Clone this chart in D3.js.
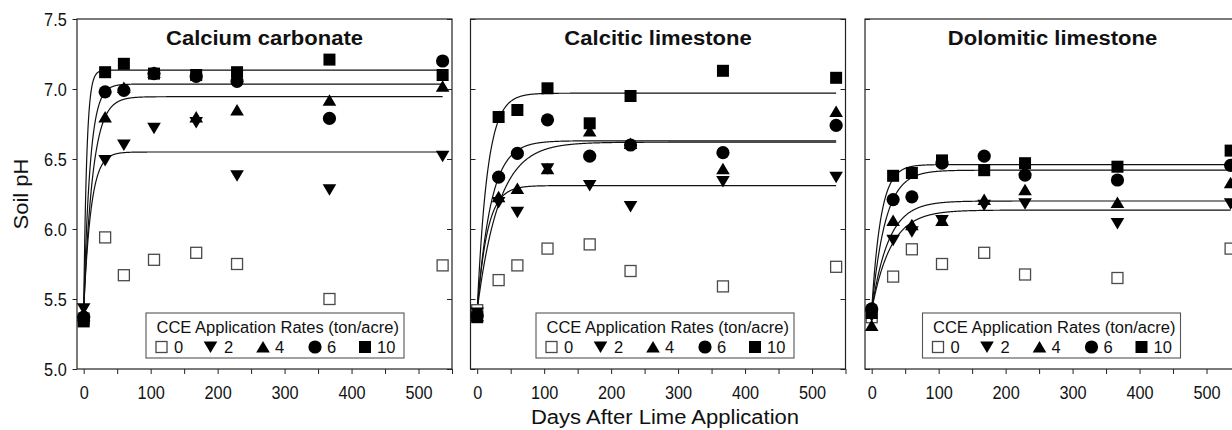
<!DOCTYPE html>
<html><head><meta charset="utf-8">
<script src="https://cdn.jsdelivr.net/npm/d3@7"></script>
<style>
body{margin:0;background:#fff}
svg text{font-family:"Liberation Sans",Arial,sans-serif;fill:#111}
</style>
</head><body>
<svg id="chart" width="1232" height="430"></svg>
<script>
// ---------- data ----------
const days = [0, 32, 60, 105, 168, 229, 367, 536];
const panelTitles = ["Calcium carbonate", "Calcitic limestone", "Dolomitic limestone"];
const rateLabels = ["0", "2", "4", "6", "10"];
const legendTitle = "CCE Application Rates (ton/acre)";
const xLabel = "Days After Lime Application";
const yLabel = "Soil pH";
const xTickValues = [0, 50, 100, 150, 200, 250, 300, 350, 400, 450, 500, 550];
const xTickLabels = [0, 100, 200, 300, 400, 500];
const yTickValues = [5.0, 5.5, 6.0, 6.5, 7.0, 7.5];

// Calcium carbonate
const caco3_r0  = [5.36, 5.94, 5.67, 5.78, 5.83, 5.75, 5.50, 5.74];
const caco3_r2  = [5.43, 6.49, 6.60, 6.72, 6.76, 6.38, 6.28, 6.52];
const caco3_r4  = [5.38, 6.80, 7.01, 7.12, 6.80, 6.85, 6.92, 7.02];
const caco3_r6  = [5.37, 6.98, 6.99, 7.11, 7.09, 7.055, 6.79, 7.20];
const caco3_r10 = [5.34, 7.12, 7.18, 7.11, 7.10, 7.12, 7.21, 7.10];
// Calcitic limestone
const calc_r0  = [5.42, 5.635, 5.74, 5.86, 5.89, 5.70, 5.59, 5.73];
const calc_r2  = [5.40, 6.19, 6.12, 6.43, 6.31, 6.16, 6.34, 6.37];
const calc_r4  = [5.38, 6.23, 6.29, 6.43, 6.70, 6.61, 6.43, 6.84];
const calc_r6  = [5.38, 6.37, 6.54, 6.78, 6.52, 6.60, 6.545, 6.74];
const calc_r10 = [5.37, 6.80, 6.85, 7.005, 6.755, 6.95, 7.13, 7.08];
// Dolomitic limestone
const dolo_r0  = [5.37, 5.66, 5.855, 5.75, 5.83, 5.675, 5.65, 5.86];
const dolo_r2  = [5.38, 5.92, 5.98, 6.06, 6.17, 6.18, 6.04, 6.18];
const dolo_r4  = [5.31, 6.06, 6.03, 6.06, 6.21, 6.28, 6.19, 6.33];
const dolo_r6  = [5.43, 6.21, 6.23, 6.47, 6.52, 6.385, 6.35, 6.455];
const dolo_r10 = [5.40, 6.38, 6.40, 6.49, 6.42, 6.47, 6.445, 6.56];

// fitted exponential rise to maximum: y = start + (asym - start)(1 - exp(-k*day)), rates 2,4,6,10
const fitStart = 5.42;
const caco3_fitAsym = [6.55, 6.945, 7.035, 7.135];
const caco3_fitK    = [0.092, 0.0735, 0.105, 0.22];
const calc_fitAsym  = [6.31, 6.62, 6.63, 6.97];
const calc_fitK     = [0.065, 0.031, 0.048, 0.0655];
const dolo_fitAsym  = [6.135, 6.20, 6.42, 6.46];
const dolo_fitK     = [0.035, 0.04, 0.049, 0.073];

const panels = [
  {title: panelTitles[0], series: [caco3_r0, caco3_r2, caco3_r4, caco3_r6, caco3_r10], asym: caco3_fitAsym, k: caco3_fitK},
  {title: panelTitles[1], series: [calc_r0, calc_r2, calc_r4, calc_r6, calc_r10], asym: calc_fitAsym, k: calc_fitK},
  {title: panelTitles[2], series: [dolo_r0, dolo_r2, dolo_r4, dolo_r6, dolo_r10], asym: dolo_fitAsym, k: dolo_fitK}
];

// ---------- layout ----------
const svg = d3.select("#chart");
const panelLeft = [77, 470.5, 865];
const legendOffset = [69, 65.5, 57.5];
const pw = 375, plotTop = 19, plotBottom = 369;
const symbolTypes = ["osq", "dtri", "utri", "circ", "sq"];

// text with a horizontal stretch factor
function stext(parent, x, yPos, str, size, sx, anchor, weight) {
  const t = parent.append("text")
    .attr("transform", `translate(${x},${yPos}) scale(${sx},1)`)
    .attr("font-size", size).attr("text-anchor", anchor || "start").text(str);
  if (weight) t.attr("font-weight", weight);
  return t;
}

function drawSymbol(g, type, cx, cy) {
  if (type === "osq") {
    g.append("rect").attr("x", cx - 5.5).attr("y", cy - 5.5).attr("width", 11).attr("height", 11)
      .attr("fill", "#fff").attr("stroke", "#4a4a4a").attr("stroke-width", 1.3);
  } else if (type === "sq") {
    g.append("rect").attr("x", cx - 6).attr("y", cy - 6).attr("width", 12).attr("height", 12).attr("fill", "#000");
  } else if (type === "circ") {
    g.append("circle").attr("cx", cx).attr("cy", cy).attr("r", 6.6).attr("fill", "#000");
  } else if (type === "utri") {
    g.append("path").attr("d", `M${cx - 6.8},${cy + 5.5}L${cx + 6.8},${cy + 5.5}L${cx},${cy - 6}Z`).attr("fill", "#000");
  } else if (type === "dtri") {
    g.append("path").attr("d", `M${cx - 6.8},${cy - 5.5}L${cx + 6.8},${cy - 5.5}L${cx},${cy + 6}Z`).attr("fill", "#000");
  }
}

const y = d3.scaleLinear().domain([5, 7.5]).range([plotBottom, plotTop]);
const tickSX = 0.88, tickFS = 18.5;

panels.forEach((p, i) => {
  const left = panelLeft[i];
  const x = d3.scaleLinear().domain([-10, 550]).range([left, left + pw]);
  const g = svg.append("g");

  // frame
  g.append("rect").attr("x", left).attr("y", plotTop).attr("width", pw).attr("height", plotBottom - plotTop)
    .attr("fill", "none").attr("stroke", "#222").attr("stroke-width", 1.2);

  // x axis
  const xa = g.append("g").attr("transform", `translate(0,${plotBottom})`)
    .call(d3.axisBottom(x).tickValues(xTickValues).tickSize(5).tickSizeOuter(0)
      .tickFormat(d => xTickLabels.includes(d) ? d : ""));
  xa.select(".domain").remove();
  xa.selectAll("line").attr("stroke", "#222");
  xa.selectAll("text").attr("font-size", tickFS).attr("y", 0).attr("dy", 30.3)
    .attr("transform", `scale(${tickSX},1)`);

  // y axis
  if (i === 0) {
    const ya = g.append("g").attr("transform", `translate(${left},0)`)
      .call(d3.axisLeft(y).tickValues(yTickValues).tickSize(4.5).tickSizeOuter(0).tickFormat(d3.format(".1f")));
    ya.select(".domain").remove();
    ya.selectAll("line").attr("stroke", "#222");
    ya.selectAll("text").attr("font-size", tickFS).attr("x", -10.3 / tickSX).attr("dy", 6.6)
      .attr("transform", `scale(${tickSX},1)`);
  } else {
    const ya = g.append("g").attr("transform", `translate(${left},0)`)
      .call(d3.axisRight(y).tickValues(yTickValues).tickSize(5).tickSizeOuter(0).tickFormat(""));
    ya.select(".domain").remove();
    ya.selectAll("line").attr("stroke", "#222");
  }
  const yr = g.append("g").attr("transform", `translate(${left + pw},0)`)
    .call(d3.axisLeft(y).tickValues(yTickValues).tickSize(5).tickSizeOuter(0).tickFormat(""));
  yr.select(".domain").remove();
  yr.selectAll("line").attr("stroke", "#222");

  // title
  stext(g, left + pw / 2, 45, p.title, 19.5, 1.13, "middle", "bold");

  // fit curves
  const samples = d3.range(0, 536.5, 0.5);
  const line = d3.line().x(d => x(d[0])).y(d => y(d[1]));
  p.asym.forEach((a, j) => {
    const pts = samples.map(t => [t, fitStart + (a - fitStart) * (1 - Math.exp(-p.k[j] * t))]);
    g.append("path").attr("d", line(pts)).attr("fill", "none").attr("stroke", "#111").attr("stroke-width", 1.2);
  });

  // points
  p.series.forEach((s, j) => {
    s.forEach((v, k) => drawSymbol(g, symbolTypes[j], x(days[k]), y(v)));
  });

  // legend
  const lx = left + legendOffset[i], ly = 313;
  const lg = svg.append("g");
  lg.append("rect").attr("x", lx).attr("y", ly).attr("width", 258).attr("height", 45)
    .attr("fill", "#fff").attr("stroke", "#555").attr("stroke-width", 1.1);
  stext(lg, lx + 10.5, ly + 20, legendTitle, 15.6, 1.06);
  const symX = [15.5, 64.5, 117, 169, 219];
  const labX = [28, 78, 129, 181, 231];
  rateLabels.forEach((r, j) => {
    drawSymbol(lg, symbolTypes[j], lx + symX[j], ly + 34);
    stext(lg, lx + labX[j], ly + 40, r, 15.6, 1.06);
  });
});

// axis titles
stext(svg, 665, 424, xLabel, 19.5, 1.13, "middle");
svg.append("g").attr("transform", "translate(28,194) rotate(-90)")
  .call(gg => stext(gg, 0, 0, yLabel, 19.5, 1.13, "middle"));
</script>
</body></html>
